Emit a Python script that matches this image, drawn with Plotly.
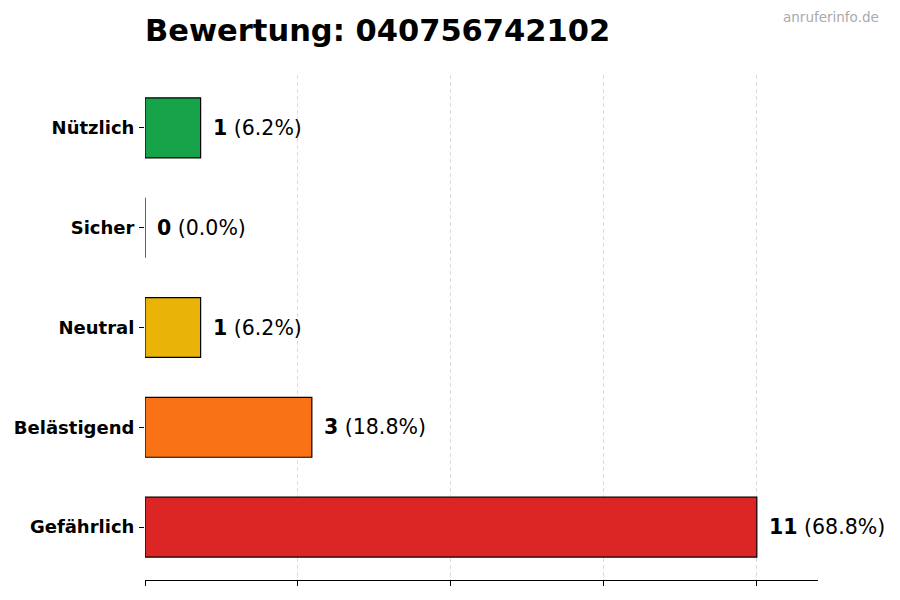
import plotly.graph_objects as go

# Bewertungen (von oben nach unten)
kategorien = ["Nützlich", "Sicher", "Neutral", "Belästigend", "Gefährlich"]
anzahl = [1, 0, 1, 3, 11]
farben = ["#16a34a", "#3b82f6", "#eab308", "#f97316", "#dc2626"]
x_ticks = [0, 2.75, 5.5, 8.25, 11]

titel = "Bewertung: 040756742102"
quelle = "anruferinfo.de"

gesamt = sum(anzahl)
labels = [f"<b>{n}</b> ({n / gesamt * 100:.1f}%)" for n in anzahl]

# Seite hat 8px Rand, daher 892x592
W, H = 892, 592

fig = go.Figure()
fig.add_trace(go.Bar(
    x=anzahl, y=kategorien, orientation="h",
    marker=dict(color=farben, line=dict(color="black", width=1.2)),
    width=0.6,
    hoverinfo="skip",
))

# Werte rechts neben den Balken
for kat, n, txt in zip(kategorien, anzahl, labels):
    fig.add_annotation(
        x=n, y=kat, text=txt, showarrow=False,
        xanchor="left", yanchor="middle", xshift=10,
        font=dict(family="DejaVu Sans", size=20.5, color="black"),
    )

fig.add_annotation(
    xref="paper", yref="paper", x=1.094, y=1.115,
    text=quelle, showarrow=False, xanchor="right", yanchor="middle",
    font=dict(family="DejaVu Sans", size=13.5, color="#aaaaaa"),
)

fig.update_layout(
    width=W, height=H,
    margin=dict(l=137, r=82, t=67, b=20),
    plot_bgcolor="white", paper_bgcolor="white",
    showlegend=False,
    title=dict(
        text=f"<b>{titel}</b>", x=137 / W, xanchor="left",
        y=1 - 22 / H, yanchor="middle",
        font=dict(family="DejaVu Sans", size=30.5, color="black"),
    ),
    xaxis=dict(
        range=[0, max(anzahl) * 1.1],
        tickvals=x_ticks, showticklabels=False,
        showgrid=True, gridcolor="#dcdcdc", griddash="4px,3px", gridwidth=0.8,
        zeroline=False, automargin=False,
        showline=True, linecolor="black", linewidth=1.2,
        ticks="outside", ticklen=5, tickcolor="black",
    ),
    yaxis=dict(
        range=[len(kategorien) - 0.47, -0.53],
        showgrid=False, zeroline=False, showline=False, automargin=False,
        ticks="outside", ticklen=5, tickcolor="black", ticklabelstandoff=1,
        tickfont=dict(family="DejaVu Sans", size=18, color="black", weight="bold"),
    ),
)

fig.write_html("out.html")
